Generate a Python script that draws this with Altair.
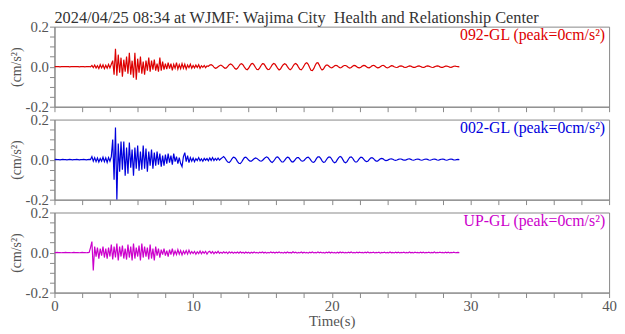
import altair as alt
import pandas as pd
import numpy as np

title_text = "2024/04/25 08:34 at WJMF: Wajima City\u00a0 Health and Relationship Center"
components = ["092-GL", "002-GL", "UP-GL"]
colors = ["#dd0000", "#0000dd", "#cc00cc"]
peak_labels = ["092-GL (peak=0cm/s\u00b2)", "002-GL (peak=0cm/s\u00b2)", "UP-GL (peak=0cm/s\u00b2)"]
dt = 0.1  # sampling step of the arrays below (s)

# acceleration in 0.001 cm/s^2, one row per second
red = [
    0, 0, 1, 0, -1, 0, 1, 0, 0, 1,
    0, -1, 0, 1, 0, 0, 1, 0, -1, 0,
    1, 0, -1, 1, 0, 1, -1, 6, -5, 8,
    -7, 5, -9, 10, -6, 9, -10, 7, -8, 11,
    -6, 12, 30, -40, 90, -45, 60, -30, 45, -50,
    35, -25, 50, -35, 70, -40, 30, -55, 70, -65,
    40, -30, 50, -35, 25, -40, 30, -20, 45, -25,
    30, -15, 35, -20, 15, -25, 45, -20, 25, -15,
    15, -12, 20, -10, 15, -18, 12, -8, 20, -12,
    10, -10, 15, -8, 12, -12, 8, -5, 12, -8,
    6, -6, 8, -4, 10, -8, 5, -3, 6, -5,
    4, 2, 8, 10, 6, -2, -8, -6, 0, 5,
    8, 4, -3, -8, -6, 2, 10, 14, 10, 2,
    -8, -13, -8, 2, 12, 15, 9, -2, -12, -15,
    -8, 4, 14, 16, 8, -4, -14, -15, -6, 6,
    15, 14, 4, -8, -15, -13, -3, 9, 16, 13,
    3, -9, -16, -12, 0, 10, 15, 11, 0, -10,
    -15, -10, 2, 12, 16, 10, -2, -13, -16, -8,
    5, 16, 20, 12, -4, -18, -20, -10, 6, 18,
    20, 8, -8, -16, -12, 0, 8, 8, 2, -4,
    -6, -2, 4, 7, 4, -2, -6, -4, 2, 6,
    6, 2, -4, -7, -4, 2, 6, 5, 0, -5,
    -6, -3, 3, 6, 5, 0, -5, -6, -2, 4,
    7, 4, -2, -6, -5, 0, 5, 7, 3, -3,
    -6, -4, 1, 5, 4, 0, -3, -4, -1, 3,
    4, 2, -2, -4, -2, 1, 4, 3, -1, -3,
    -3, 0, 3, 4, 1, -2, -4, -2, 2, 4,
    3, 0, -3, -4, -1, 2, 4, 3, -1, -3,
    -3, 0, 3, 3, 1, -2, -3, -1, 2, 3,
    1, 0, -1,
]

blue = [
    0, 1, 0, 0, -1, 0, 1, 0, 0, -1,
    0, 1, 0, -1, 0, 0, 1, 0, -1, 0,
    0, 1, 0, -1, 0, 1, 0, 15, -8, 10,
    -10, 8, -12, 6, -8, 12, -10, 9, -14, 10,
    -8, 15, 100, -100, 160, -200, 80, -60, 90, -50,
    90, -80, 60, -70, 85, -40, 50, -80, 60, -45,
    70, -55, 40, -50, 70, -45, 55, -60, 40, -30,
    50, -45, 35, -30, 40, -25, 30, -35, 20, -30,
    25, -20, 30, -15, 20, -25, 30, -10, 15, -20,
    10, -20, -35, 15, 35, -10, 20, -15, 10, -8,
    8, -10, 5, -5, 10, -6, 4, -8, 6, -3,
    5, -6, 8, -4, 10, -5, 6, -3, 8, -2,
    4, 10, 15, 8, -4, -12, -15, -8, 4, 12,
    10, 2, -10, -18, -20, -12, 0, 10, 12, 6,
    -2, -8, -8, -2, 4, 8, 6, 0, -6, -8,
    -4, 3, 10, 14, 10, 0, -10, -14, -8, 2,
    12, 14, 6, -4, -12, -12, -4, 6, 12, 10,
    0, -10, -12, -6, 4, 10, 10, 2, -6, -8,
    -4, 4, 10, 12, 6, -4, -12, -14, -6, 6,
    14, 14, 6, -6, -14, -12, -2, 8, 14, 12,
    2, -10, -16, -12, 0, 10, 16, 12, 0, -12,
    -16, -10, 2, 12, 14, 8, -4, -12, -12, -4,
    6, 12, 10, 2, -6, -10, -8, 0, 8, 10,
    6, -2, -8, -8, -2, 4, 6, 4, -2, -5,
    -4, 0, 3, 4, 2, -2, -4, -2, 1, 3,
    3, 0, -3, -3, 0, 3, 4, 1, -2, -3,
    -1, 2, 3, 1, -2, -3, -1, 2, 3, 1,
    -2, -3, -1, 2, 3, 1, -2, -3, 0, 2,
    3, 1, -2, -3, -1, 2, 3, 1, -2, -2,
    0, 1, 0,
]

magenta = [
    0, 0, 1, 0, 0, -1, 0, 0, 1, 0,
    0, 0, -1, 0, 1, 0, 0, 0, -1, 0,
    1, 0, 0, -1, 0, 1, 25, 55, -90, 30,
    -20, 25, -30, 20, -15, 30, -25, 20, -30, 25,
    -20, 40, -35, 30, -25, 45, -40, 30, -20, 35,
    -30, 20, -35, 40, -25, 30, -40, 45, -30, 25,
    -20, 35, -40, 45, -25, 30, -20, 25, -35, 40,
    -30, 20, -40, 30, -15, 20, -25, 15, -10, 20,
    -15, 10, -20, 15, -10, 20, -12, 8, -10, 15,
    -8, 10, -12, 8, -6, 10, -8, 12, -6, 5,
    -5, 6, -8, 4, -5, 8, -6, 5, -4, 6,
    -8, 3, 6, -4, 5, -6, 3, -3, 6, -4,
    2, -3, 4, -2, 3, -5, 4, -2, 3, -3,
    2, -2, 3, -3, 4, -2, 2, -3, 3, -2,
    2, -3, 2, -2, 3, -2, 1, -3, 2, -1,
    3, -2, 2, -3, 1, -2, 3, -1, 2, -2,
    2, -1, 3, -2, 1, -3, 2, -2, 3, -1,
    1, -2, 4, -1, 2, -3, 1, -2, 3, -2,
    2, -2, 1, -3, 2, -1, 3, -2, 1, -2,
    3, -1, 2, -2, 1, -3, 2, -1, 3, -2,
    2, -2, 1, -3, 2, -2, 3, -1, 2, -2,
    1, -2, 2, -1, 3, -2, 1, -2, 2, -1,
    2, -1, 1, -2, 2, -1, 3, -2, 1, -1,
    2, -2, 1, -1, 2, -3, 1, -1, 2, -2,
    1, -2, 3, -1, 1, -2, 2, -1, 2, -2,
    1, -1, 2, -2, 1, -2, 3, -1, 1, -2,
    2, -1, 1, -2, 2, -1, 2, -2, 1, -1,
    2, -2, 1, -1, 3, -2, 1, -1, 2, -1,
    1, -2, 2, -1, 2, -2, 1, -1, 2, -1,
    0, 1, 0,
]

x_ticks = list(range(0, 41, 2))
y_ticks = [-0.2, -0.15, -0.1, -0.05, 0.0, 0.05, 0.1, 0.15, 0.2]

FONT = "Liberation Serif"
GRAY = "#555555"
LINE = "#888888"
W, H = 561, 81


def panel(vals, color, label, last=False):
    df = pd.DataFrame({"t": np.arange(len(vals)) * dt, "a": np.array(vals) / 1000.0})
    if last:
        xaxis = alt.Axis(values=x_ticks, labelExpr="datum.value % 10 == 0 ? datum.label : ''",
                         title="Time(s)", titlePadding=0, labelPadding=1, labelFlush=False)
    else:
        xaxis = alt.Axis(values=x_ticks, labels=False)
    yaxis = alt.Axis(values=y_ticks,
                     labelExpr="datum.value > 0.19 ? '0.2' : (datum.value < -0.19 ? '-0.2' : (abs(datum.value) < 0.001 ? '0.0' : ''))",
                     title="(cm/s\u00b2)", titlePadding=2, titleFontSize=14, labelPadding=1,
                     labelFlush=False)
    line = alt.Chart(df).mark_line(color=color, strokeWidth=1.2, clip=True).encode(
        x=alt.X("t:Q", scale=alt.Scale(domain=[0, 40], nice=False), axis=xaxis,
                title="Time(s)" if last else None),
        y=alt.Y("a:Q", scale=alt.Scale(domain=[-0.2, 0.2], nice=False), axis=yaxis),
    )
    txt = alt.Chart(pd.DataFrame({"label": [label]})).mark_text(
        align="right", baseline="alphabetic", font=FONT, fontSize=16, color=color
    ).encode(x=alt.value(W - 4), y=alt.value(14), text="label:N")
    return alt.layer(line, txt).properties(width=W, height=H)


p1 = panel(red, colors[0], peak_labels[0]).properties(
    title=alt.Title(title_text, anchor="start", frame="group", font=FONT, fontSize=16.5,
                    fontWeight="normal", color="#333333", offset=-7)
)
p2 = panel(blue, colors[1], peak_labels[1])
p3 = panel(magenta, colors[2], peak_labels[2], last=True)

chart = alt.vconcat(p1, p2, p3, spacing=13, bounds="flush").properties(
    padding={"left": 0, "top": 0, "right": 0, "bottom": 0}
).configure_view(stroke=LINE, strokeWidth=1).configure_axis(
    labelFont=FONT, labelFontSize=15, labelColor=GRAY, labelPadding=2,
    titleFont=FONT, titleFontSize=15, titleColor=GRAY, titleFontWeight="normal",
    tickColor=LINE, domainColor=LINE, tickSize=5, grid=False,
)

chart.save("out.html", embed_options={"renderer": "svg", "actions": False})
